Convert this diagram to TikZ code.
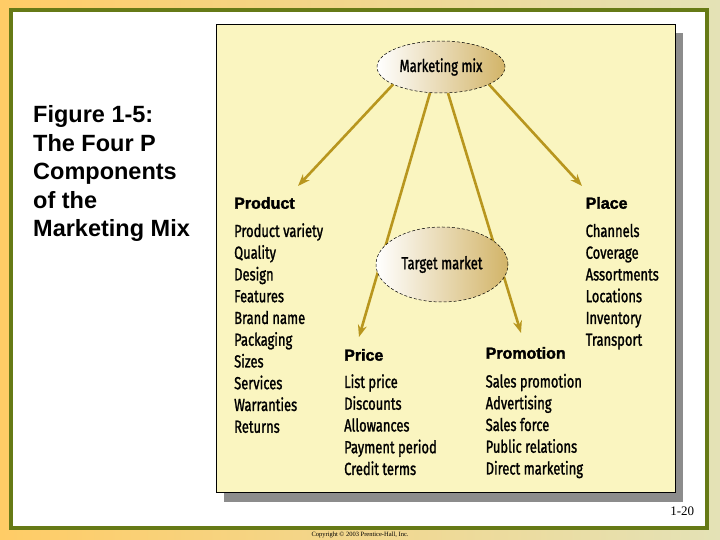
\documentclass[tikz,border=0pt]{standalone}
\usepackage{fontspec}
\setmainfont{Liberation Serif}
\newfontfamily\capfont{Liberation Sans}
\newfontfamily\itemfont[FakeStretch=0.74, FakeBold=1.3]{Fira Sans}
\newfontfamily\headfont[UprightFont={* Bold}, FakeBold=2.2]{Liberation Sans}
\usetikzlibrary{shapes.geometric,arrows.meta}

\definecolor{olivegreen}{RGB}{102,122,22}
\definecolor{panelyellow}{RGB}{250,245,192}
\definecolor{arrowgold}{RGB}{184,150,30}
\definecolor{eggtan}{RGB}{210,180,104}
\definecolor{bgorange}{RGB}{255,204,102}
\definecolor{bgpale}{RGB}{228,226,182}

\tikzset{
  mixarrow/.style={draw=arrowgold, line width=2.6pt, -{Stealth[length=12pt,width=9pt]}},
  egg/.style={ellipse, draw, densely dashed, line width=0.5pt, left color=white, right color=eggtan, inner sep=0pt, font=\itemfont\fontsize{17.5}{20}\selectfont},
  pitem/.style={anchor=base west, inner sep=0pt, font=\itemfont\fontsize{17.5}{20}\selectfont},
  phead/.style={anchor=base west, inner sep=0pt, font=\headfont\fontsize{16}{19}\selectfont},
  figcap/.style={anchor=base west, inner sep=0pt, font=\capfont\bfseries\fontsize{23.5}{28}\selectfont},
}

\begin{document}
\begin{tikzpicture}[x=1pt, y=1pt]
    \useasboundingbox (0, 0) rectangle (720, 540);
    \shade[left color=bgorange, right color=bgpale] (0, 0) rectangle (720, 540);
    \draw[olivegreen, line width=4pt, fill=white] (11.3, 12) rectangle (707, 530);

        %%panel
        \fill[gray!90] (224, 38) rectangle (683, 507);
        \draw[fill=panelyellow, line width=0.6pt] (216, 47.3) rectangle (675, 516);

    %%caption
    \node[figcap] (cap1) at (33, 417){Figure 1-5:};
    \node[figcap] (cap2) at (33, 388.5){The Four P};
    \node[figcap] (cap3) at (33, 360){Components};
    \node[figcap] (cap4) at (33, 331.5){of the};
    \node[figcap] (cap5) at (33, 303){Marketing Mix};

    %%top ellipse
    \node[egg, minimum width=128, minimum height=52] (mix) at (441, 473){Marketing mix};

        \coordinate (prodtip) at (298, 354);
        \coordinate (placetip) at (582, 354);
        \coordinate (pricetip) at (359, 203);
        \coordinate (promtip) at (521, 207);

        \draw[mixarrow] (mix.200) to (prodtip);
        \draw[mixarrow] (mix.340) to (placetip);
        \draw[mixarrow] (mix.247) to (pricetip);
        \draw[mixarrow] (mix.285) to (promtip);

    \node[egg, minimum width=132, minimum height=75] (target) at (442, 275.5){Target market};

    %%product
    \node[phead] (product) at (234, 331.3){Product};
        \node[pitem] (prod1) at (234, 303){Product variety};
        \node[pitem] (prod2) at (234, 281.25){Quality};
        \node[pitem] (prod3) at (234, 259.5){Design};
        \node[pitem] (prod4) at (234, 237.75){Features};
        \node[pitem] (prod5) at (234, 216){Brand name};
        \node[pitem] (prod6) at (234, 194.25){Packaging};
        \node[pitem] (prod7) at (234, 172.5){Sizes};
        \node[pitem] (prod8) at (234, 150.75){Services};
        \node[pitem] (prod9) at (234, 129){Warranties};
        \node[pitem] (prod10) at (234, 107.25){Returns};

    %%place
    \node[phead] (place) at (585.5, 331.3){Place};
        \node[pitem] (plac1) at (585.5, 303){Channels};
        \node[pitem] (plac2) at (585.5, 281.25){Coverage};
        \node[pitem] (plac3) at (585.5, 259.5){Assortments};
        \node[pitem] (plac4) at (585.5, 237.75){Locations};
        \node[pitem] (plac5) at (585.5, 216){Inventory};
        \node[pitem] (plac6) at (585.5, 194.25){Transport};

    %%price
    \node[phead] (price) at (344, 179.3){Price};
        \node[pitem] (pric1) at (344, 152){List price};
        \node[pitem] (pric2) at (344, 130.25){Discounts};
        \node[pitem] (pric3) at (344, 108.5){Allowances};
        \node[pitem] (pric4) at (344, 86.75){Payment period};
        \node[pitem] (pric5) at (344, 65){Credit terms};

    %%promotion
    \node[phead] (promotion) at (485.5, 181.3){Promotion};
        \node[pitem] (prom1) at (485.5, 152.5){Sales promotion};
        \node[pitem] (prom2) at (485.5, 130.75){Advertising};
        \node[pitem] (prom3) at (485.5, 109){Sales force};
        \node[pitem] (prom4) at (485.5, 87.25){Public relations};
        \node[pitem] (prom5) at (485.5, 65.5){Direct marketing};

    %%footer
    \node[anchor=base east, inner sep=0pt, font=\fontsize{13}{15}\selectfont] (slideno) at (694.3, 24){1-20};
    \node[inner sep=0pt, font=\fontsize{6.5}{8}\selectfont] (copyright) at (360, 5.5){Copyright \textcopyright\ 2003 Prentice-Hall, Inc.};

\end{tikzpicture}
\end{document}
